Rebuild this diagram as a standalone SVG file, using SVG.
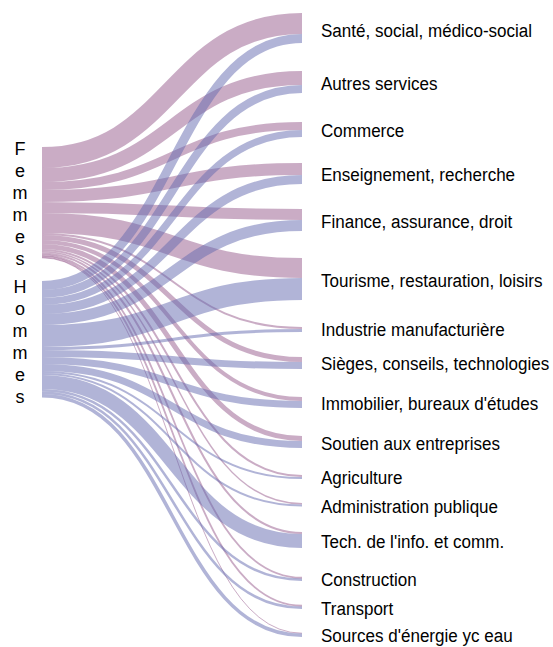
<svg xmlns="http://www.w3.org/2000/svg" width="553" height="647" viewBox="0 0 553 647">
<style>
.f{fill:none;stroke:#965a8c;stroke-opacity:0.5}
.h{fill:none;stroke:#6469af;stroke-opacity:0.5}
text{font-family:"Liberation Sans",Arial,sans-serif;font-size:18px;fill:#000}
.v{text-anchor:middle;dominant-baseline:central}
</style>
<rect width="553" height="647" fill="#fff"/>
<g id="links">
<path class="f" stroke-width="21" d="M42,157.5C172,157.5 172,23.5 302,23.5"/>
<path class="f" stroke-width="14" d="M42,175C172,175 172,78 302,78"/>
<path class="f" stroke-width="8" d="M42,186C172,186 172,126 302,126"/>
<path class="f" stroke-width="12" d="M42,196C172,196 172,169 302,169"/>
<path class="f" stroke-width="11" d="M42,207.5C172,207.5 172,214.5 302,214.5"/>
<path class="f" stroke-width="20" d="M42,223C172,223 172,268 302,268"/>
<path class="f" stroke-width="2" d="M42,234C172,234 172,328 302,328"/>
<path class="f" stroke-width="5" d="M42,237.5C172,237.5 172,359.5 302,359.5"/>
<path class="f" stroke-width="4" d="M42,242C172,242 172,399 302,399"/>
<path class="f" stroke-width="5" d="M42,246.5C172,246.5 172,438.5 302,438.5"/>
<path class="f" stroke-width="2" d="M42,250C172,250 172,476 302,476"/>
<path class="f" stroke-width="1.5" d="M42,251.75C172,251.75 172,503.75 302,503.75"/>
<path class="f" stroke-width="2" d="M42,253.5C172,253.5 172,533 302,533"/>
<path class="f" stroke-width="1.8" d="M42,255.25C172,255.25 172,577.75 302,577.75"/>
<path class="f" stroke-width="1.8" d="M42,256.75C172,256.75 172,605.75 302,605.75"/>
<path class="f" stroke-width="1" d="M42,257.75C172,257.75 172,633.25 302,633.25"/>
<path class="h" stroke-width="9" d="M42,285.5C172,285.5 172,38.5 302,38.5"/>
<path class="h" stroke-width="8" d="M42,294C172,294 172,89 302,89"/>
<path class="h" stroke-width="7" d="M42,301.5C172,301.5 172,133.5 302,133.5"/>
<path class="h" stroke-width="9" d="M42,309.5C172,309.5 172,179.5 302,179.5"/>
<path class="h" stroke-width="11" d="M42,319.5C172,319.5 172,225.5 302,225.5"/>
<path class="h" stroke-width="22" d="M42,336C172,336 172,289 302,289"/>
<path class="h" stroke-width="3" d="M42,348.5C172,348.5 172,330.5 302,330.5"/>
<path class="h" stroke-width="7" d="M42,353.5C172,353.5 172,365.5 302,365.5"/>
<path class="h" stroke-width="7" d="M42,360.5C172,360.5 172,404.5 302,404.5"/>
<path class="h" stroke-width="7" d="M42,367.5C172,367.5 172,444.5 302,444.5"/>
<path class="h" stroke-width="2" d="M42,372C172,372 172,478 302,478"/>
<path class="h" stroke-width="2" d="M42,374C172,374 172,505.5 302,505.5"/>
<path class="h" stroke-width="14" d="M42,382C172,382 172,541 302,541"/>
<path class="h" stroke-width="2.5" d="M42,390.25C172,390.25 172,579.75 302,579.75"/>
<path class="h" stroke-width="2.5" d="M42,392.75C172,392.75 172,607.75 302,607.75"/>
<path class="h" stroke-width="3.5" d="M42,395.75C172,395.75 172,635.25 302,635.25"/>
</g>
<g id="femmes"><text class="v" x="20"><tspan x="20" y="149">F</tspan><tspan x="20" y="171">e</tspan><tspan x="20" y="193">m</tspan><tspan x="20" y="215">m</tspan><tspan x="20" y="237">e</tspan><tspan x="20" y="259">s</tspan></text></g>
<g id="hommes"><text class="v" x="20"><tspan x="20" y="287">H</tspan><tspan x="20" y="309">o</tspan><tspan x="20" y="331">m</tspan><tspan x="20" y="353">m</tspan><tspan x="20" y="375">e</tspan><tspan x="20" y="397">s</tspan></text></g>
<g transform="translate(321,0) scale(0.947,1)">
<g id="sante"><text x="0" y="37">Santé, social, médico-social</text></g>
<g id="autres"><text x="0" y="90">Autres services</text></g>
<g id="commerce"><text x="0" y="137">Commerce</text></g>
<g id="enseignement"><text x="0" y="181">Enseignement, recherche</text></g>
<g id="finance"><text x="0" y="228">Finance, assurance, droit</text></g>
<g id="tourisme"><text x="0" y="287">Tourisme, restauration, loisirs</text></g>
<g id="industrie"><text x="0" y="336">Industrie manufacturière</text></g>
<g id="sieges"><text x="0" y="370">Sièges, conseils, technologies</text></g>
<g id="immobilier"><text x="0" y="410">Immobilier, bureaux d'études</text></g>
<g id="soutien"><text x="0" y="450">Soutien aux entreprises</text></g>
<g id="agriculture"><text x="0" y="484">Agriculture</text></g>
<g id="administration"><text x="0" y="513">Administration publique</text></g>
<g id="tech"><text x="0" y="548">Tech. de l'info. et comm.</text></g>
<g id="construction"><text x="0" y="586">Construction</text></g>
<g id="transport"><text x="0" y="615">Transport</text></g>
<g id="sources"><text x="0" y="642">Sources d'énergie yc eau</text></g>
</g>
</svg>
